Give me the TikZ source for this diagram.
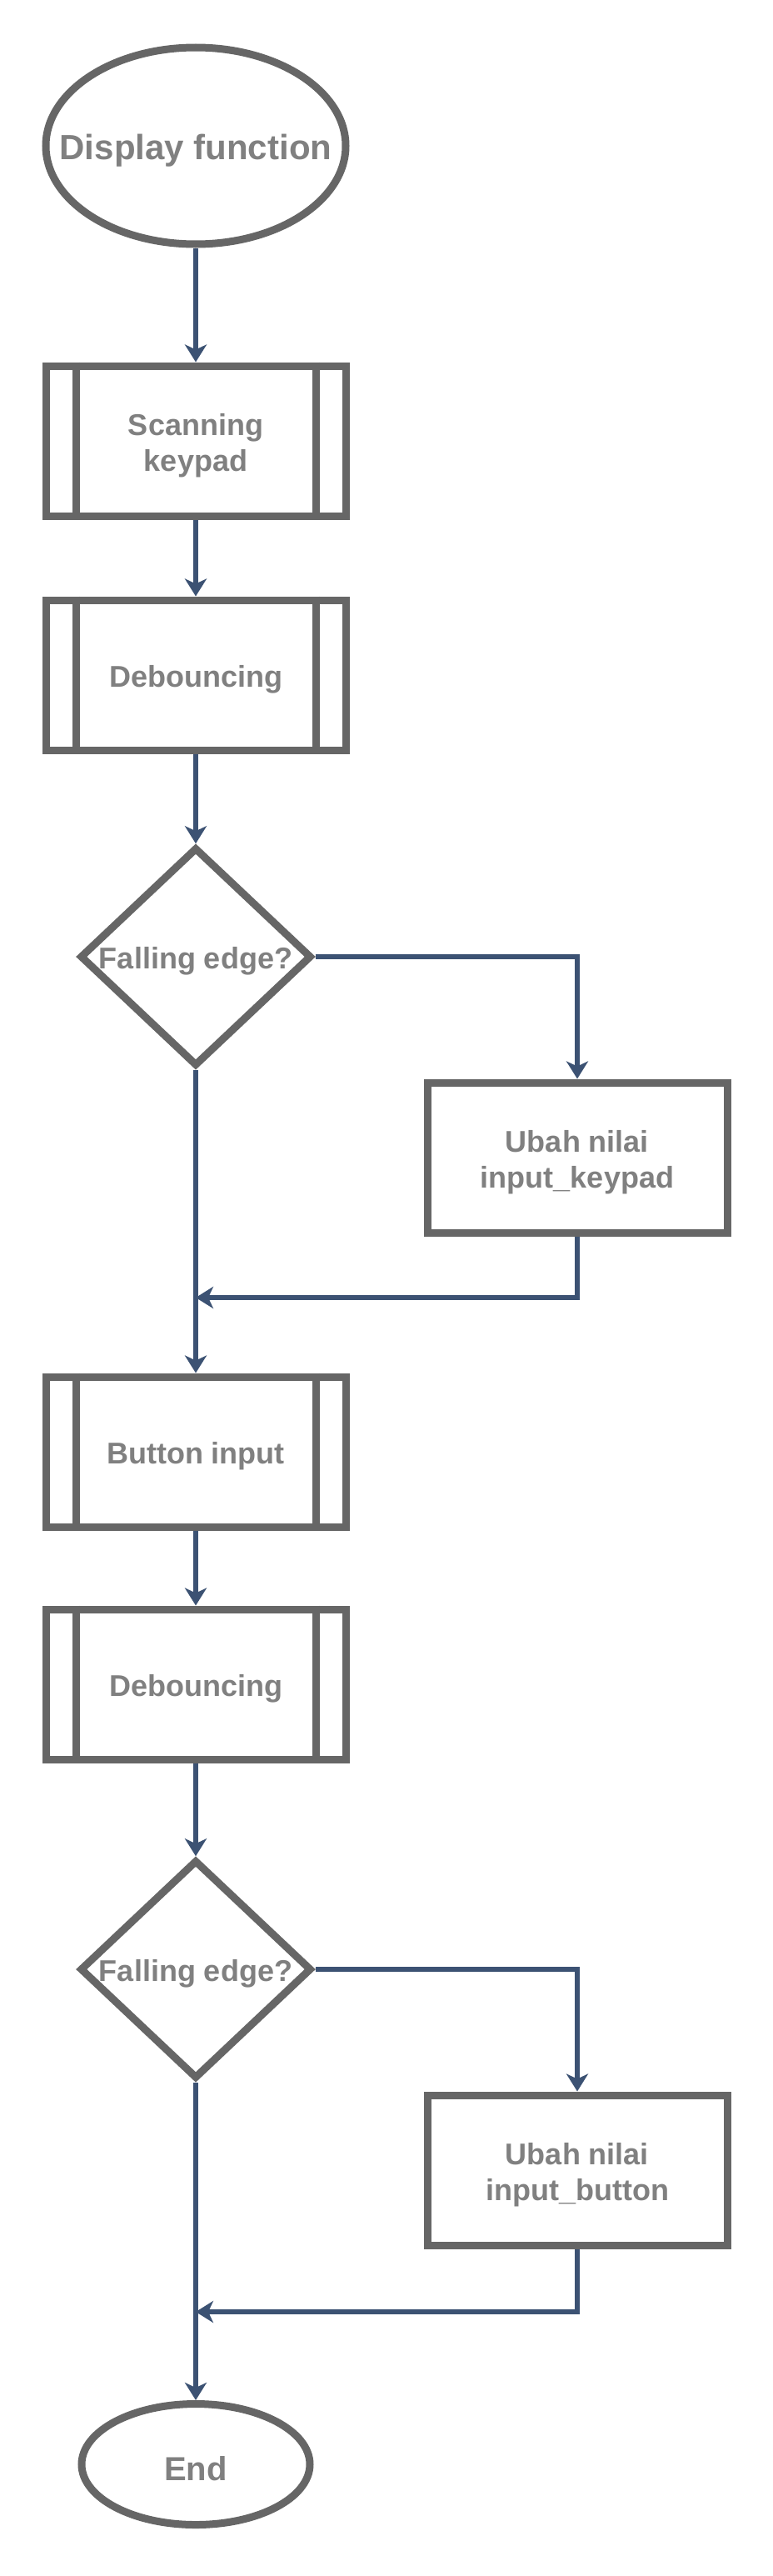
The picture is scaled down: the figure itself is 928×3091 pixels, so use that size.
\documentclass[tikz,border=0pt]{standalone}
\usepackage{fontspec}
\setmainfont{Liberation Sans}
\usetikzlibrary{shapes.geometric,arrows.meta}
\definecolor{shpline}{RGB}{102,102,102}
\definecolor{txtcol}{RGB}{128,128,128}
\definecolor{arrcol}{RGB}{60,82,115}
\tikzset{
  shp/.style={draw=shpline, line width=9pt, fill=white, text=txtcol, inner sep=0pt, align=center,
    font=\fontsize{36}{43}\selectfont\bfseries, execute at begin node={\rule{0pt}{1em}}},
  procbox/.style={shp, rectangle, minimum width=360pt, minimum height=180pt},
  plainbox/.style={shp, rectangle, minimum width=360pt, minimum height=180pt},
  decide/.style={shp, diamond, aspect=1.06, minimum width=276pt, minimum height=260pt},
  term/.style={shp, ellipse},
  arr/.style={draw=arrcol, line width=5.5pt, -{Stealth[length=21pt,width=26pt,inset=6pt]}},
}
\newcommand{\tallfirst}{\rule{0pt}{38pt}}
\begin{document}
\begin{tikzpicture}[x=1pt,y=-1pt]
\useasboundingbox[fill=white] (0,0) rectangle (928,3091);

\node[term, minimum width=360pt, minimum height=236pt, font=\fontsize{42}{50}\selectfont\bfseries] (start) at (235,175) {\makebox[0pt]{Display function}};
\node[procbox] (s1) at (235,529) {\tallfirst Scanning\\keypad};
\node[procbox] (d1) at (235,810) {Debouncing};
\node[decide] (q1) at (235,1148) {Falling edge?};
\node[plainbox] (r1) at (693,1389) {\tallfirst Ubah nilai\\input\_keypad};
\coordinate (m1) at (235,1557);
\node[procbox] (b1) at (235,1742) {Button input};
\node[procbox] (d2) at (235,2021) {Debouncing};
\node[decide] (q2) at (235,2363) {Falling edge?};
\node[plainbox] (r2) at (693,2604) {\tallfirst Ubah nilai\\input\_button};
\coordinate (m2) at (235,2774);
\node[term, minimum width=274pt, minimum height=145pt, font=\fontsize{40}{48}\selectfont\bfseries] (end) at (235,2957) {\makebox[0pt]{End}};

% inner lines of predefined process boxes
\foreach \n in {s1,d1,b1,d2}{
  \draw[draw=shpline, line width=9pt] ([xshift=40.5pt]\n.north west) -- ([xshift=40.5pt]\n.south west);
  \draw[draw=shpline, line width=9pt] ([xshift=-40.5pt]\n.north east) -- ([xshift=-40.5pt]\n.south east);
}

\draw[arr] (start) -- (s1);
\draw[arr] (s1) -- (d1);
\draw[arr] (d1) -- (q1);
\draw[arr] (q1.east) -| (r1.north);
\draw[arr] (q1.south) -- (b1.north);
\draw[arr] (r1.south) |- (m1);
\draw[arr] (b1) -- (d2);
\draw[arr] (d2) -- (q2);
\draw[arr] (q2.east) -| (r2.north);
\draw[arr] (q2.south) -- (end.north);
\draw[arr] (r2.south) |- (m2);
\end{tikzpicture}
\end{document}
